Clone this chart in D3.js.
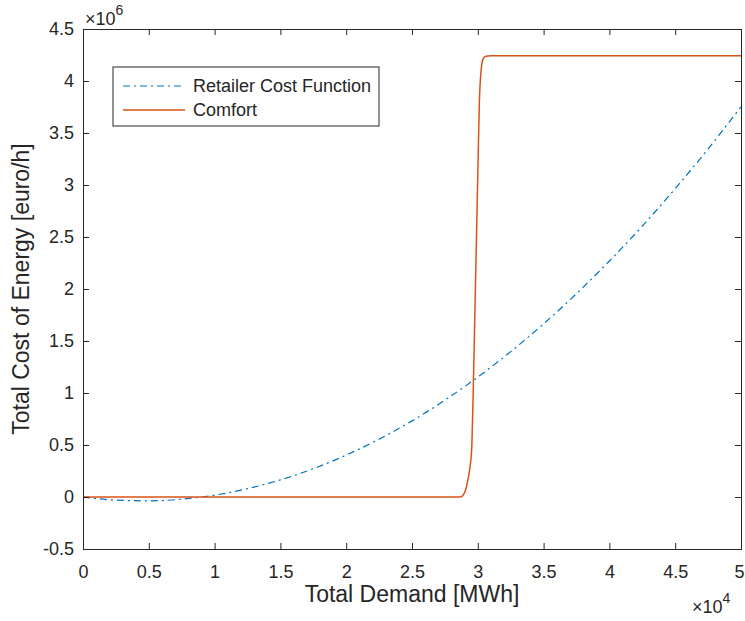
<!DOCTYPE html>
<html lang="en">
<head>
    <meta charset="UTF-8">
    <title>Total Cost of Energy</title>
    <script src="https://d3js.org/d3.v7.min.js"></script>
    <style>
        body { margin: 0; background: #fff; }
        text { font-family: "Liberation Sans", Arial, Helvetica, sans-serif; fill: #262626; }
    </style>
</head>
<body>
<div id="chart"></div>
<script>
    // Demand in units of 10^4 MWh, cost in units of 10^6 euro/h
    const retailerDemand = [0, 0.25, 0.5, 0.75, 1.0, 1.25, 1.5, 1.75, 2.0, 2.25, 2.5, 2.75, 3.0, 3.25, 3.5, 3.75, 4.0, 4.25, 4.5, 4.75, 5.0];
    const retailerCost   = [0, -0.030, -0.037, -0.021, 0.018, 0.080, 0.165, 0.272, 0.403, 0.556, 0.732, 0.931, 1.153, 1.398, 1.665, 1.956, 2.269, 2.605, 2.965, 3.347, 3.752];

    const comfortDemand = [0, 2.87, 2.89, 2.91, 2.93, 2.945, 2.955, 2.965, 2.98, 3.0, 3.012, 3.025, 3.04, 3.06, 3.1, 5.0];
    const comfortCost   = [0, 0, 0.02, 0.08, 0.2, 0.33, 0.5, 1.0, 1.9, 3.1, 3.8, 4.1, 4.21, 4.238, 4.243, 4.243];

    const xTicks = [0, 0.5, 1, 1.5, 2, 2.5, 3, 3.5, 4, 4.5, 5];
    const yTicks = [-0.5, 0, 0.5, 1, 1.5, 2, 2.5, 3, 3.5, 4, 4.5];

    const seriesNames = ["Retailer Cost Function", "Comfort"];
    const seriesColors = ["#0072BD", "#D95319"];

    const width = 745, height = 621;
    const plotLeft = 83, plotRight = 741, plotTop = 29, plotBottom = 549;
    const axisColor = "#262626";

    const svg = d3.select("#chart").append("svg")
        .attr("width", width).attr("height", height);

    const x = d3.scaleLinear().domain([0, 5]).range([plotLeft, plotRight]);
    const y = d3.scaleLinear().domain([-0.5, 4.5]).range([plotBottom, plotTop]);

    const fmt = d => String(d);

    // series
    const line = d3.line()
        .x(d => x(d[0]))
        .y(d => y(d[1]))
        .curve(d3.curveMonotoneX);

    const retailer = retailerDemand.map((d, i) => [d, retailerCost[i]]);
    const comfort = comfortDemand.map((d, i) => [d, comfortCost[i]]);

    svg.append("path")
        .datum(retailer)
        .attr("d", line)
        .attr("fill", "none")
        .attr("stroke", seriesColors[0])
        .attr("stroke-width", 1.2)
        .attr("stroke-dasharray", "7,4,2,4");

    svg.append("path")
        .datum(comfort)
        .attr("d", line)
        .attr("fill", "none")
        .attr("stroke", seriesColors[1])
        .attr("stroke-width", 1.5);

    // axes (box with inward ticks on all sides)
    const tickLen = 6;
    svg.append("g")
        .attr("transform", `translate(0,${plotBottom})`)
        .call(d3.axisBottom(x).tickValues(xTicks).tickSize(-tickLen).tickPadding(16).tickFormat(fmt))
        .call(g => g.selectAll("text").attr("font-size", 18).attr("dy", "0.71em"))
        // last label sits right at the figure edge, pull it in a little
        .call(g => g.selectAll("text").filter(d => d === 5).attr("dx", -2));
    svg.append("g")
        .attr("transform", `translate(0,${plotTop})`)
        .call(d3.axisTop(x).tickValues(xTicks).tickSize(-tickLen).tickFormat(""));
    svg.append("g")
        .attr("transform", `translate(${plotLeft},0)`)
        .call(d3.axisLeft(y).tickValues(yTicks).tickSize(-tickLen).tickPadding(9).tickFormat(fmt))
        .call(g => g.selectAll("text").attr("font-size", 18));
    svg.append("g")
        .attr("transform", `translate(${plotRight},0)`)
        .call(d3.axisRight(y).tickValues(yTicks).tickSize(-tickLen).tickFormat(""));

    svg.selectAll(".domain, .tick line")
        .attr("stroke", axisColor)
        .attr("stroke-width", 1);
    svg.selectAll(".tick text").attr("fill", "#3a3a3a");

    // exponent labels
    const exp6 = svg.append("text").attr("x", 85).attr("y", 25).attr("font-size", 18).attr("fill", "#3a3a3a");
    exp6.append("tspan").text("\u00d710");
    exp6.append("tspan").attr("dy", -10).attr("font-size", 14).text("6");

    const exp4 = svg.append("text").attr("x", 692).attr("y", 613).attr("font-size", 18).attr("fill", "#3a3a3a");
    exp4.append("tspan").text("\u00d710");
    exp4.append("tspan").attr("dy", -10).attr("font-size", 14).text("4");

    // axis labels
    svg.append("text")
        .attr("x", (plotLeft + plotRight) / 2)
        .attr("y", 602)
        .attr("text-anchor", "middle")
        .attr("font-size", 23)
        .text("Total Demand [MWh]");

    svg.append("text")
        .attr("transform", `translate(29,${(plotTop + plotBottom) / 2}) rotate(-90)`)
        .attr("text-anchor", "middle")
        .attr("font-size", 23)
        .text("Total Cost of Energy [euro/h]");

    // legend
    const legend = svg.append("g");
    legend.append("rect")
        .attr("x", 113).attr("y", 67)
        .attr("width", 266).attr("height", 59)
        .attr("fill", "#fff")
        .attr("stroke", axisColor)
        .attr("stroke-width", 1);

    seriesNames.forEach((name, i) => {
        const ly = 86 + i * 24;
        legend.append("line")
            .attr("x1", 123).attr("x2", 185)
            .attr("y1", ly).attr("y2", ly)
            .attr("stroke", seriesColors[i])
            .attr("stroke-width", i === 0 ? 1.2 : 1.5)
            .attr("stroke-dasharray", i === 0 ? "7,4,2,4" : null);
        legend.append("text")
            .attr("x", 193).attr("y", ly)
            .attr("dy", "0.35em")
            .attr("font-size", 18)
            .text(name);
    });
</script>
</body>
</html>
